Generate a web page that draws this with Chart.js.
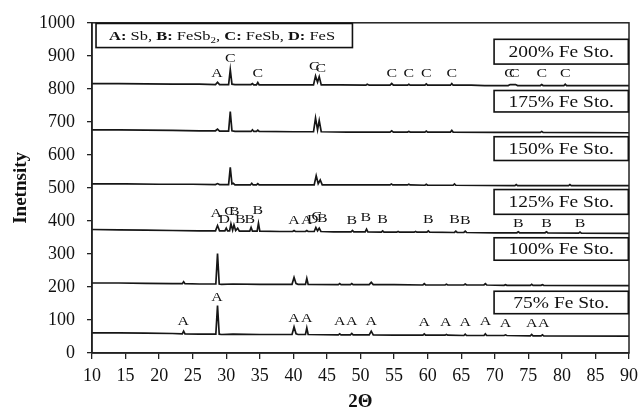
<!DOCTYPE html>
<html>
<head>
<meta charset="utf-8">
<script src="https://cdn.jsdelivr.net/npm/chart.js@4.4.0/dist/chart.umd.min.js"></script>
<style>
  html, body { margin: 0; padding: 0; background: #fff; }
  #wrap { width: 644px; height: 412px; }
</style>
</head>
<body>
<div id="wrap"><canvas id="xrd-chart"></canvas></div>
<script>
// XRD patterns, [2theta, intensity]
const fe200 = [[10,816],[14,816],[18,815],[22,814],[26,814],[28.4,813],[28.7,820],[29.0,813],[30.35,813],[30.6,858],[30.85,814],[31.3,813],[33.7,813],[33.9,816],[34.1,812],[34.5,812],[34.7,819],[34.9,812],[38,812],[43.0,812],[43.3,839],[43.6,820],[43.85,837],[44.15,812],[47,812],[50.8,811],[51.0,814],[51.3,811],[54.4,811],[54.65,816],[54.9,811],[57.0,811],[57.2,814],[57.4,811],[59.6,811],[59.8,815],[60.0,811],[63.4,811],[63.6,816],[63.8,811],[66.5,811],[68.5,810],[72.0,810],[72.3,813],[73.1,813],[73.4,810],[76.8,810],[77.0,813],[77.2,810],[80.3,810],[80.5,814],[80.7,810],[85,810],[90,810]];
const fe175 = [[10,676],[14,676],[18,675],[22,674],[26,673],[28.4,673],[28.7,678],[29.0,672],[30.35,672],[30.6,731],[30.85,673],[31.3,671],[33.7,671],[33.9,676],[34.1,671],[34.5,671],[34.7,675],[34.9,671],[40,670],[43.0,670],[43.3,712],[43.6,676],[43.85,704],[44.15,670],[48,669],[54.4,669],[54.65,673],[54.9,669],[57.0,669],[57.2,671],[57.4,669],[59.6,669],[59.8,672],[60.0,669],[63.4,669],[63.6,674],[63.8,669],[70,668],[76.8,668],[77.0,671],[77.2,668],[90,667]];
const fe150 = [[10,512],[15,512],[20,511],[25,511],[28.4,510],[28.7,513],[29.0,510],[30.35,510],[30.6,562],[30.85,512],[31.05,514],[31.3,509],[33.6,509],[33.8,514],[34.0,509],[34.5,509],[34.7,513],[34.9,509],[40,509],[43.1,509],[43.4,537],[43.7,513],[44.0,524],[44.3,509],[50,509],[54.4,509],[54.6,512],[54.8,509],[57.0,509],[57.2,511],[57.4,509],[59.6,508],[59.8,511],[60.0,508],[63.8,508],[64.0,512],[64.2,508],[73.0,507],[73.2,510],[73.4,507],[81.0,507],[81.2,510],[81.4,507],[90,507]];
const fe125 = [[10,374],[14,373],[18,372],[22,371],[26,370],[28.4,370],[28.7,386],[29.0,370],[29.8,370],[30.0,378],[30.2,370],[30.5,370],[30.7,391],[30.95,372],[31.15,388],[31.4,371],[31.7,378],[31.95,369],[33.5,369],[33.7,380],[33.9,369],[34.6,369],[34.8,393],[35.0,369],[38,368],[39.9,368],[40.1,371],[40.3,368],[41.8,368],[42.0,371],[42.2,368],[43.1,368],[43.35,380],[43.6,370],[43.85,378],[44.1,368],[46,367],[48.6,367],[48.8,371],[49.0,367],[50.7,367],[50.9,375],[51.1,367],[53.1,366],[53.3,370],[53.5,366],[55.4,366],[55.6,368],[55.8,366],[58.0,366],[58.2,368],[58.4,366],[59.9,366],[60.1,370],[60.3,366],[64.0,365],[64.2,369],[64.4,365],[65.4,365],[65.6,369],[65.8,365],[70,364],[73.3,364],[73.5,367],[73.7,364],[77.5,364],[77.7,367],[77.9,364],[82.5,363],[82.7,366],[82.9,363],[90,362]];
const fe100 = [[10,212],[14,212],[18,211],[22,210],[23.45,210],[23.65,216],[23.85,210],[26,209],[28.45,209],[28.7,301],[28.95,209],[29.3,208],[31,209],[35,208],[39.8,208],[40.1,229],[40.4,210],[40.7,208],[41.8,208],[42.0,226],[42.2,208],[46.7,207],[46.9,210],[47.1,207],[48.5,207],[48.7,210],[48.9,207],[51.3,207],[51.6,214],[51.9,207],[55,207],[59.3,206],[59.5,210],[59.7,206],[62.6,206],[62.8,208],[63.0,206],[65.4,206],[65.6,209],[65.8,206],[68.4,206],[68.6,210],[68.8,206],[71.4,205],[71.6,207],[71.8,205],[75.3,205],[75.5,208],[75.7,205],[76.9,205],[77.1,207],[77.3,205],[90,204]];
const fe75 = [[10,61],[14,61],[18,60],[22,59],[23.45,58],[23.65,66],[23.85,58],[26,57],[28.45,57],[28.7,144],[28.95,57],[29.3,56],[31,57],[35,56],[39.8,56],[40.1,79],[40.4,58],[40.7,56],[41.8,56],[42.0,76],[42.2,56],[46.7,55],[46.9,58],[47.1,55],[48.5,55],[48.7,59],[48.9,55],[51.3,55],[51.6,66],[51.9,55],[55,54],[59.3,54],[59.5,58],[59.7,54],[62.6,54],[62.8,56],[63.0,54],[65.4,53],[65.6,57],[65.8,53],[68.4,53],[68.6,58],[68.8,53],[71.4,53],[71.6,55],[71.8,53],[75.3,52],[75.5,56],[75.7,52],[76.9,52],[77.1,55],[77.3,52],[90,51]];

const seriesNames = ['200% Fe Sto.', '175% Fe Sto.', '150% Fe Sto.', '125% Fe Sto.', '100% Fe Sto.', '75% Fe Sto.'];
const seriesData = [fe200, fe175, fe150, fe125, fe100, fe75];

// sample label boxes on the right: [top, bottom] in intensity units
const boxTops = [950, 795, 655, 495, 349, 187];
const boxBottoms = [875, 730, 583, 420, 281, 119];
const boxFrom = 69.9;
const boxTo = 89.9;

// phase marks: [letter, 2theta, intensity]
const marks200 = [['A',28.6,845],['C',30.6,893],['C',34.7,845],['C',43.1,866],['C',44.1,862],['C',54.65,845],['C',57.2,845],['C',59.8,845],['C',63.6,845],['C',72.2,845],['C',72.9,845],['C',77.0,845],['C',80.5,845]];
const marks125 = [['A',28.5,421],['D',29.7,405],['C',30.5,428],['B',31.2,428],['B',32.1,405],['B',33.5,405],['B',34.7,430],['A',40.1,402],['A',42.0,402],['D',42.9,405],['C',43.5,414],['B',44.3,407],['B',48.7,402],['B',50.8,411],['B',53.3,404],['B',60.1,404],['B',64.0,404],['B',65.6,400],['B',73.5,391],['B',77.7,393],['B',82.7,391]];
const marks75 = [['A',23.6,94],['A',28.6,169],['A',40.1,104],['A',42.0,104],['A',46.9,94],['A',48.7,94],['A',51.6,96],['A',59.5,92],['A',62.7,92],['A',65.6,92],['A',68.6,96],['A',71.6,90],['A',75.5,90],['A',77.3,90]];
const phaseMarks = [marks200, marks125, marks75];

const legendParts = [['A:', 'b'], [' Sb, ', 'n'], ['B:', 'b'], [' FeSb', 'n'], ['2', 's'], [', ', 'n'], ['C:', 'b'], [' FeSb, ', 'n'], ['D:', 'b'], [' FeS', 'n']];

const SERIF = '"Liberation Serif", "Times New Roman", serif';
const STRETCH = 1.22;

const drawStretched = (ctx, text, x, y, sx) => {
  ctx.save();
  ctx.translate(x, y);
  ctx.scale(sx, 1);
  ctx.fillText(text, 0, 0);
  ctx.restore();
};

const annotations = {
  id: 'annotations',
  afterDatasetsDraw(chart) {
    const { ctx, chartArea, scales: { x, y } } = chart;
    ctx.save();

    // frame
    ctx.strokeStyle = '#222';
    ctx.lineWidth = 1.5;
    ctx.strokeRect(chartArea.left, chartArea.top, chartArea.right - chartArea.left, chartArea.bottom - chartArea.top);

    // phase letters
    ctx.fillStyle = '#111';
    ctx.font = '13px ' + SERIF;
    ctx.textAlign = 'center';
    ctx.textBaseline = 'middle';
    phaseMarks.forEach(list => list.forEach(([t, xv, yv]) => {
      drawStretched(ctx, t, x.getPixelForValue(xv), y.getPixelForValue(yv), STRETCH);
    }));

    // sample boxes
    ctx.font = '16.5px ' + SERIF;
    seriesNames.forEach((name, i) => {
      const l = x.getPixelForValue(boxFrom), r = x.getPixelForValue(boxTo);
      const t = y.getPixelForValue(boxTops[i]), b = y.getPixelForValue(boxBottoms[i]);
      ctx.fillStyle = '#fff';
      ctx.fillRect(l, t, r - l, b - t);
      ctx.strokeStyle = '#111';
      ctx.lineWidth = 1.6;
      ctx.strokeRect(l, t, r - l, b - t);
      ctx.fillStyle = '#111';
      drawStretched(ctx, name, (l + r) / 2, (t + b) / 2 + 1, 1.18);
    });

    // phase legend
    const lx = x.getPixelForValue(10.6), rx = x.getPixelForValue(48.8);
    const ty = y.getPixelForValue(998), by = y.getPixelForValue(925);
    ctx.fillStyle = '#fff';
    ctx.fillRect(lx, ty, rx - lx, by - ty);
    ctx.strokeStyle = '#111';
    ctx.lineWidth = 1.6;
    ctx.strokeRect(lx, ty, rx - lx, by - ty);
    ctx.fillStyle = '#111';
    ctx.textAlign = 'left';
    let cx = lx + 13;
    const cy = (ty + by) / 2 + 1;
    legendParts.forEach(([txt, kind]) => {
      const size = kind === 's' ? 9 : 13.5;
      ctx.font = (kind === 'b' ? 'bold ' : '') + size + 'px ' + SERIF;
      drawStretched(ctx, txt, cx, kind === 's' ? cy + 4 : cy, STRETCH);
      cx += ctx.measureText(txt).width * STRETCH;
    });

    ctx.restore();
  }
};

const datasets = seriesData.map((pts, i) => ({
  label: seriesNames[i],
  data: pts.map(([a, b]) => ({ x: a, y: b })),
  borderColor: '#161616',
  borderWidth: 1.7,
  pointRadius: 0,
  tension: 0,
  fill: false
}));

new Chart(document.getElementById('xrd-chart'), {
  type: 'line',
  data: { datasets },
  options: {
    responsive: true,
    maintainAspectRatio: false,
    animation: false,
    layout: { padding: { top: 20, right: 12, left: 0, bottom: 0 } },
    plugins: { legend: { display: false }, tooltip: { enabled: false } },
    scales: {
      x: {
        type: 'linear',
        min: 10,
        max: 90,
        afterFit: s => { s.height = 59; },
        ticks: { stepSize: 5, color: '#111', padding: 6, maxRotation: 0, callback: v => String(v), font: { family: SERIF, size: 18 } },
        grid: { drawOnChartArea: false, drawTicks: true, tickLength: 6, color: '#222', lineWidth: 1.3 },
        border: { color: '#222', width: 1.5 },
        title: { display: true, text: '2Θ', color: '#111', padding: 0, font: { family: SERIF, size: 19, weight: 'bold', lineHeight: 1 } }
      },
      y: {
        min: 0,
        max: 1000,
        afterFit: s => { s.width = 92; },
        ticks: { stepSize: 100, color: '#111', padding: 12, callback: v => String(v), font: { family: SERIF, size: 18 } },
        grid: { drawOnChartArea: false, drawTicks: true, tickLength: 5, color: '#222', lineWidth: 1.3 },
        border: { color: '#222', width: 1.5 },
        title: { display: true, text: 'Inetnsity', color: '#111', padding: { top: 12 }, font: { family: SERIF, size: 19, weight: 'bold', lineHeight: 1 } }
      }
    }
  },
  plugins: [annotations]
});
</script>
</body>
</html>
